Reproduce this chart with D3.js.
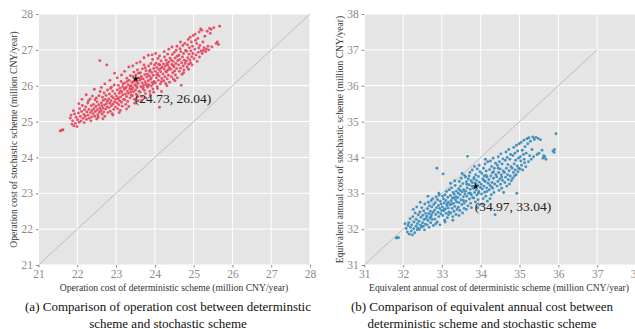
<!DOCTYPE html>
<html>
<head>
<meta charset="utf-8">
<script src="https://cdn.jsdelivr.net/npm/d3@7"></script>
<style>
  body { margin: 0; background: #fff; }
  svg { display: block; font-family: "Liberation Serif", "Times New Roman", serif; }
</style>
</head>
<body>
<div id="chart"></div>
<script>
// (a) operation cost: [deterministic, stochastic], million CNY/year
const opPoints = [
  [21.56,24.74],[21.63,24.77],[21.60,24.76],
  [21.82,25.10],[21.86,24.93],[21.88,25.02],[21.91,24.88],[21.93,25.21],[21.95,24.95],[21.97,25.12],[21.99,24.86],[21.84,25.18],[21.90,25.30],
  [22.01,25.05],[22.03,25.24],[22.05,24.98],[22.06,25.36],[22.08,25.14],[22.10,25.02],[22.11,25.28],[22.13,25.45],[22.15,25.09],[22.17,25.20],[22.18,24.97],[22.19,25.33],[22.04,25.50],[22.12,25.62],
  [22.21,25.15],[22.22,25.41],[22.24,25.06],[22.25,25.27],[22.27,25.52],[22.28,25.18],[22.30,25.34],[22.31,25.09],[22.33,25.63],[22.34,25.25],[22.36,25.44],[22.37,25.13],[22.38,25.31],[22.39,25.71],[22.23,25.75],[22.29,25.58],[22.35,25.02],
  [22.41,25.22],[22.42,25.48],[22.43,25.36],[22.45,25.15],[22.46,25.61],[22.47,25.28],[22.48,25.42],[22.50,25.07],[22.51,25.55],[22.52,25.33],[22.53,25.19],[22.55,25.47],[22.56,25.72],[22.57,25.26],[22.58,25.38],[22.59,25.84],[22.44,25.90],[22.54,25.12],[22.49,25.66],[22.58,26.70],
  [22.61,25.31],[22.62,25.52],[22.63,25.44],[22.64,25.21],[22.65,25.68],[22.66,25.37],[22.67,25.59],[22.68,25.27],[22.69,25.80],[22.70,25.46],[22.71,25.15],[22.72,25.62],[22.73,25.35],[22.74,25.73],[22.75,25.50],[22.76,26.58],[22.77,25.41],[22.78,25.88],[22.79,25.25],[22.62,25.95],[22.66,25.08],[22.71,26.05],[22.78,25.57],
  [22.81,25.63],[22.82,25.39],[22.83,25.77],[22.84,25.51],[22.85,25.29],[22.86,25.93],[22.87,25.58],[22.88,25.44],[22.89,25.70],[22.90,25.22],[22.91,25.85],[22.92,25.49],[22.93,25.66],[22.94,25.34],[22.95,26.02],[22.96,25.55],[22.97,25.78],[22.98,25.41],[22.99,25.62],[22.84,26.15],[22.92,25.18],[22.96,26.35],[22.88,25.96],
  [23.01,25.71],[23.02,25.52],[23.03,25.88],[23.04,25.36],[23.05,25.64],[23.06,26.01],[23.07,25.47],[23.08,25.79],[23.09,25.58],[23.10,25.93],[23.11,25.31],[23.12,25.69],[23.13,26.12],[23.14,25.54],[23.15,25.83],[23.16,25.43],[23.17,25.75],[23.18,26.05],[23.19,25.62],[23.03,26.22],[23.08,25.25],[23.14,26.30],[23.17,25.97],[23.11,25.85],[23.06,25.66],
  [23.21,25.90],[23.22,25.61],[23.23,26.08],[23.24,25.77],[23.25,25.48],[23.26,25.96],[23.27,25.70],[23.28,26.21],[23.29,25.85],[23.30,25.56],[23.31,26.03],[23.32,25.79],[23.33,25.42],[23.34,26.15],[23.35,25.91],[23.36,25.66],[23.37,26.28],[23.38,25.83],[23.39,26.00],[23.22,26.40],[23.27,25.35],[23.33,26.52],[23.36,25.98],[23.29,26.12],[23.24,25.93],[23.39,25.74],
  [23.41,26.09],[23.42,25.72],[23.43,25.94],[23.44,26.25],[23.45,25.83],[23.46,26.38],[23.47,25.62],[23.48,26.02],[23.49,26.17],[23.50,25.88],[23.51,26.30],[23.52,25.76],[23.53,26.10],[23.54,25.95],[23.55,26.44],[23.56,25.69],[23.57,26.06],[23.58,26.22],[23.59,25.85],[23.43,26.55],[23.48,25.51],[23.53,26.63],[23.57,25.58],[23.45,26.12],[23.52,26.00],[23.58,26.35],[23.41,25.90],
  [23.61,26.15],[23.62,25.82],[23.63,26.36],[23.64,25.98],[23.65,26.26],[23.66,25.70],[23.67,26.08],[23.68,26.47],[23.69,25.92],[23.70,26.19],[23.71,26.02],[23.72,26.58],[23.73,25.87],[23.74,26.31],[23.75,26.11],[23.76,25.78],[23.77,26.42],[23.78,26.05],[23.79,26.24],[23.62,26.66],[23.66,25.59],[23.72,26.78],[23.77,25.66],[23.64,26.20],[23.70,25.95],[23.75,26.50],[23.79,26.00],
  [23.81,26.32],[23.82,25.96],[23.83,26.14],[23.84,26.55],[23.85,26.03],[23.86,26.27],[23.87,25.84],[23.88,26.44],[23.89,26.18],[23.90,26.62],[23.91,25.99],[23.92,26.37],[23.93,26.09],[23.94,26.73],[23.95,25.91],[23.96,26.29],[23.97,26.48],[23.98,26.12],[23.99,26.58],[23.83,26.85],[23.88,25.75],[23.93,26.86],[23.97,25.82],[23.86,26.40],[23.91,26.22],[23.96,26.05],
  [24.01,26.40],[24.02,26.08],[24.03,26.63],[24.04,26.22],[24.05,26.51],[24.06,25.97],[24.07,26.34],[24.08,26.76],[24.09,26.15],[24.10,26.45],[24.11,26.27],[24.12,25.40],[24.13,26.58],[24.14,26.05],[24.15,26.39],[24.16,26.69],[24.17,25.84],[24.18,26.20],[24.19,26.52],[24.02,26.90],[24.07,25.92],[24.12,26.83],[24.17,26.11],[24.05,26.30],[24.10,26.60],[24.15,26.48],
  [24.21,26.33],[24.22,26.61],[24.23,26.14],[24.24,26.47],[24.25,26.80],[24.26,26.25],[24.27,26.55],[24.28,26.06],[24.29,26.71],[24.30,26.38],[24.31,26.62],[24.32,26.19],[24.33,26.88],[24.34,26.44],[24.35,26.29],[24.36,26.66],[24.37,26.51],[24.38,26.10],[24.39,26.77],[24.24,26.95],[24.31,26.00],[24.36,27.02],[24.28,26.40],[24.33,26.58],
  [24.41,26.46],[24.42,26.72],[24.43,26.25],[24.44,26.59],[24.45,26.87],[24.46,26.36],[24.47,26.68],[24.48,26.18],[24.49,26.53],[24.50,26.93],[24.51,26.41],[24.52,26.77],[24.53,26.30],[24.54,26.62],[24.55,26.99],[24.56,26.48],[24.57,26.82],[24.58,26.22],[24.59,26.70],[24.44,27.08],[24.52,26.14],[24.57,27.10],[24.48,26.56],
  [24.61,26.58],[24.62,26.85],[24.63,26.40],[24.64,26.73],[24.65,27.03],[24.66,26.49],[24.67,26.95],[24.68,26.01],[24.69,26.64],[24.70,26.32],[24.71,26.80],[24.72,27.12],[24.73,26.55],[24.74,26.90],[24.75,26.44],[24.76,26.71],[24.77,27.18],[24.78,26.62],[24.79,26.98],[24.66,27.22],[24.74,26.36],
  [24.81,26.69],[24.82,26.96],[24.83,26.52],[24.84,27.14],[24.85,26.78],[24.86,27.29],[24.87,26.60],[24.88,26.88],[24.89,27.06],[24.90,26.72],[24.91,27.35],[24.92,26.64],[24.93,26.97],[24.94,27.22],[24.95,26.81],[24.96,26.58],[24.97,27.10],[24.98,26.90],[24.99,27.40],[24.87,26.46],
  [25.01,26.75],[25.03,27.02],[25.04,27.44],[25.06,26.86],[25.08,27.18],[25.09,26.68],[25.11,27.32],[25.12,26.93],[25.14,27.50],[25.15,26.80],[25.16,27.12],[25.18,27.58],[25.19,26.97],[25.05,27.27],[25.13,27.05],
  [25.21,27.55],[25.22,26.90],[25.24,27.22],[25.25,26.98],[25.27,27.06],[25.29,27.38],[25.31,26.95],[25.33,27.02],[25.35,27.52],[25.37,27.10],[25.39,27.00],
  [25.41,27.60],[25.43,27.46],[25.45,27.57],[25.47,27.08],[25.52,27.62],[25.58,27.18],[25.61,27.22],[25.64,27.15],[25.67,27.66]
];

// (b) equivalent annual cost: [deterministic, stochastic], million CNY/year
const eacPoints = [
  [31.82,31.75],[31.85,31.77],[31.88,31.76],
  [32.08,32.02],[32.11,31.92],[32.14,32.18],[32.16,31.86],[32.18,32.29],[32.19,32.05],[32.13,32.10],[32.05,32.15],
  [32.21,31.95],[32.22,32.12],[32.24,31.84],[32.25,32.35],[32.27,32.01],[32.28,32.20],[32.30,31.90],[32.31,32.45],[32.33,32.08],[32.34,32.27],[32.36,31.98],[32.37,32.15],[32.39,32.40],[32.26,32.55],[32.35,32.62],[32.38,32.03],
  [32.41,32.22],[32.42,31.99],[32.43,32.48],[32.45,32.11],[32.46,32.33],[32.47,32.05],[32.48,32.60],[32.50,32.18],[32.51,32.39],[32.52,32.08],[32.53,32.51],[32.54,32.27],[32.56,32.70],[32.57,32.14],[32.58,32.44],[32.59,32.30],[32.44,32.75],[32.55,31.98],
  [32.61,32.36],[32.62,32.12],[32.63,32.57],[32.64,32.24],[32.65,32.75],[32.66,32.43],[32.67,32.05],[32.68,32.65],[32.69,32.31],[32.70,32.50],[32.71,32.18],[32.72,32.80],[32.73,32.40],[32.74,32.62],[32.75,32.27],[32.76,32.85],[32.77,32.47],[32.78,32.10],[32.79,32.69],[32.64,32.92],[32.72,32.35],
  [32.81,32.53],[32.82,32.28],[32.83,32.74],[32.84,32.41],[32.85,32.90],[32.86,32.60],[32.87,33.70],[32.88,32.20],[32.89,32.82],[32.90,32.47],[32.91,32.66],[32.92,32.35],[32.93,32.95],[32.94,32.58],[32.95,32.12],[32.96,32.78],[32.97,32.43],[32.98,32.70],[32.99,32.52],[32.84,32.15],[32.92,33.00],
  [33.01,32.62],[33.02,32.38],[33.03,33.54],[33.04,32.84],[33.05,32.51],[33.06,32.73],[33.07,32.25],[33.08,32.96],[33.09,32.57],[33.10,32.80],[33.11,32.44],[33.12,33.05],[33.13,32.66],[33.14,32.32],[33.15,32.89],[33.16,32.59],[33.17,32.75],[33.18,32.48],[33.19,33.10],[33.02,32.92],[33.08,32.20],[33.13,32.70],[33.17,32.40],[33.06,32.55],
  [33.21,32.68],[33.22,32.94],[33.23,32.45],[33.24,32.79],[33.25,33.15],[33.26,32.58],[33.27,32.86],[33.28,32.35],[33.29,33.02],[33.30,32.72],[33.31,32.50],[33.32,32.97],[33.33,32.63],[33.34,33.22],[33.35,32.82],[33.36,32.41],[33.37,33.06],[33.38,32.76],[33.39,32.55],[33.22,33.28],[33.28,32.25],[33.33,33.35],[33.37,32.90],[33.25,32.70],[33.31,32.88],
  [33.41,32.88],[33.42,32.61],[33.43,33.13],[33.44,32.74],[33.45,33.33],[33.46,32.52],[33.47,32.96],[33.48,33.20],[33.49,32.82],[33.50,33.42],[33.51,32.68],[33.52,33.04],[33.53,32.45],[33.54,33.27],[33.55,32.90],[33.56,33.10],[33.57,32.72],[33.58,33.50],[33.59,32.98],[33.44,32.38],[33.52,33.55],[33.57,32.58],[33.47,33.08],[33.55,32.80],[33.42,33.00],
  [33.61,33.06],[33.62,32.78],[33.63,33.32],[33.64,32.92],[33.65,33.15],[33.66,34.03],[33.67,32.65],[33.68,33.40],[33.69,33.00],[33.70,33.24],[33.71,32.84],[33.72,33.58],[33.73,33.11],[33.74,32.72],[33.75,33.35],[33.76,32.96],[33.77,33.20],[33.78,33.65],[33.79,32.88],[33.63,32.55],[33.70,33.48],[33.76,32.60],[33.64,33.25],[33.73,33.00],[33.78,33.30],[33.61,33.45],
  [33.81,33.14],[33.82,32.87],[33.83,33.44],[33.84,33.02],[33.85,33.28],[33.86,32.76],[33.87,33.52],[33.88,33.10],[33.89,33.36],[33.90,32.95],[33.91,33.68],[33.92,33.21],[33.93,32.82],[33.94,33.47],[33.95,33.05],[33.96,33.31],[33.97,32.68],[33.98,33.60],[33.99,33.16],[33.84,33.75],[33.92,32.60],[33.96,33.78],[33.88,33.25],[33.94,33.00],[33.82,33.40],
  [34.01,33.25],[34.02,32.98],[34.03,33.55],[34.04,33.12],[34.05,33.40],[34.06,32.85],[34.07,33.70],[34.08,33.20],[34.09,33.48],[34.10,33.03],[34.11,33.82],[34.12,33.33],[34.13,32.92],[34.14,33.62],[34.15,33.15],[34.16,33.45],[34.17,32.78],[34.18,33.88],[34.19,33.28],[34.04,32.70],[34.12,33.95],[34.16,33.05],[34.08,33.36],[34.14,33.50],
  [34.21,33.38],[34.22,33.10],[34.23,33.66],[34.24,33.22],[34.25,33.90],[34.26,33.48],[34.27,32.96],[34.28,33.75],[34.29,33.30],[34.30,33.57],[34.31,33.14],[34.32,33.98],[34.33,33.42],[34.34,33.02],[34.35,33.70],[34.36,33.26],[34.37,32.40],[34.38,33.84],[34.39,33.52],[34.24,32.85],[34.33,33.60],[34.28,33.18],
  [34.41,33.46],[34.42,33.20],[34.43,33.78],[34.44,33.33],[34.45,34.02],[34.46,33.58],[34.47,33.08],[34.48,33.88],[34.49,33.40],[34.50,33.68],[34.51,33.25],[34.52,34.10],[34.53,33.52],[34.54,33.14],[34.55,33.82],[34.56,33.36],[34.57,33.96],[34.58,33.62],[34.59,33.02],[34.45,33.70],[34.54,33.45],
  [34.61,33.58],[34.62,33.30],[34.63,33.92],[34.64,33.45],[34.65,34.15],[34.66,33.70],[34.67,33.20],[34.68,34.00],[34.69,33.52],[34.70,33.80],[34.71,33.38],[34.72,34.22],[34.73,33.63],[34.74,33.26],[34.75,33.95],[34.76,33.48],[34.77,34.08],[34.78,33.74],[34.79,33.35],
  [34.81,33.70],[34.82,33.42],[34.83,34.05],[34.84,33.58],[34.85,34.28],[34.86,33.82],[34.87,33.48],[34.88,34.12],[34.89,33.65],[34.90,33.92],[34.91,33.52],[34.92,34.34],[34.93,33.00],[34.94,33.76],[34.95,34.18],[34.96,33.60],[34.97,33.98],[34.98,33.70],[34.99,34.38],
  [35.01,33.68],[35.02,34.02],[35.04,34.42],[35.05,33.78],[35.07,34.20],[35.08,33.65],[35.10,34.08],[35.11,34.48],[35.13,33.85],[35.14,34.30],[35.16,33.74],[35.17,34.12],[35.19,34.52],[35.03,33.90],[35.12,33.95],
  [35.21,34.38],[35.23,33.88],[35.24,34.55],[35.26,34.05],[35.28,34.45],[35.30,33.95],[35.32,34.22],[35.34,34.57],[35.36,34.02],[35.38,34.50],
  [35.42,34.56],[35.45,34.08],[35.48,34.53],[35.50,34.12],[35.54,34.49],[35.58,34.20],[35.60,33.98],[35.65,34.02],[35.68,33.95],[35.62,34.05],
  [35.86,34.18],[35.89,34.14],[35.94,34.66],[35.90,34.22]
];

// marked points and their labels
const opMark = [23.51, 26.19];
const opMarkLabel = '(24.73, 26.04)';
const eacMark = [33.87, 33.19];
const eacMarkLabel = '(34.97, 33.04)';

const opTicks = [21, 22, 23, 24, 25, 26, 27, 28];
const eacTicks = [31, 32, 33, 34, 35, 36, 37, 38];

const opXLabel = 'Operation cost of deterministic scheme (million CNY/year)';
const opYLabel = 'Operation cost of stochastic scheme (million CNY/year)';
const eacXLabel = 'Equivalent annual cost of deterministic scheme (million CNY/year)';
const eacYLabel = 'Equivalent annual cost of stochastic scheme (million CNY/year)';
const opCaption = ['(a) Comparison of operation cost between determinstic', 'scheme and stochastic scheme'];
const eacCaption = ['(b) Comparison of equivalent annual cost between', 'deterministic scheme and stochastic scheme'];

const width = 635;
const height = 329;

const svg = d3.select('#chart')
  .append('svg')
  .attr('width', width)
  .attr('height', height);

function drawPanel(cfg) {
  const x = d3.scaleLinear().domain(d3.extent(cfg.ticks)).range([cfg.left, cfg.right]);
  const y = d3.scaleLinear().domain(d3.extent(cfg.ticks)).range([cfg.bottom, cfg.top]);
  const g = svg.append('g');

  // fundo cinza estilo ggplot
  g.append('rect')
    .attr('x', cfg.left)
    .attr('y', cfg.top)
    .attr('width', cfg.right - cfg.left)
    .attr('height', cfg.bottom - cfg.top)
    .attr('fill', '#e5e5e5');

  // grade branca
  g.selectAll('.vgrid')
    .data(cfg.ticks)
    .enter()
    .append('line')
    .attr('x1', (d) => x(d))
    .attr('x2', (d) => x(d))
    .attr('y1', cfg.top)
    .attr('y2', cfg.bottom)
    .attr('stroke', '#fff')
    .attr('stroke-width', 1);

  g.selectAll('.hgrid')
    .data(cfg.ticks)
    .enter()
    .append('line')
    .attr('x1', cfg.left)
    .attr('x2', cfg.right)
    .attr('y1', (d) => y(d))
    .attr('y2', (d) => y(d))
    .attr('stroke', '#fff')
    .attr('stroke-width', 1);

  // linha y = x
  g.append('line')
    .attr('x1', x(cfg.diag[0]))
    .attr('y1', y(cfg.diag[0]))
    .attr('x2', x(cfg.diag[1]))
    .attr('y2', y(cfg.diag[1]))
    .attr('stroke', '#bdbdbd')
    .attr('stroke-width', 1);

  // pontos
  g.append('g')
    .selectAll('circle')
    .data(cfg.points)
    .enter()
    .append('circle')
    .attr('cx', (d) => x(d[0]))
    .attr('cy', (d) => y(d[1]))
    .attr('r', 1.45)
    .attr('fill', cfg.color)
    .attr('fill-opacity', 0.9);

  // ponto marcado
  g.append('path')
    .attr('d', d3.symbol().type(d3.symbolStar).size(14))
    .attr('transform', `translate(${x(cfg.mark[0])},${y(cfg.mark[1])})`)
    .attr('fill', '#000');

  g.append('text')
    .attr('x', x(cfg.mark[0]) - 1)
    .attr('y', y(cfg.mark[1]) + 24.5)
    .attr('font-size', '13.5px')
    .attr('fill', '#222')
    .text(cfg.markLabel);

  // eixos
  const xAxis = g.append('g')
    .attr('transform', `translate(0,${cfg.bottom})`)
    .call(d3.axisBottom(x).tickValues(cfg.ticks).tickSize(2.5).tickPadding(2).tickFormat(d3.format('d')));
  const yAxis = g.append('g')
    .attr('transform', `translate(${cfg.left},0)`)
    .call(d3.axisLeft(y).tickValues(cfg.ticks).tickSize(2.5).tickPadding(3).tickFormat(d3.format('d')));

  [xAxis, yAxis].forEach((a) => {
    a.select('.domain').remove();
    a.selectAll('line').attr('stroke', '#888');
    a.selectAll('text')
      .attr('fill', '#8a8a8a')
      .style('font-size', '11.5px')
      .style('font-family', '"Liberation Serif", serif');
  });

  // rótulos dos eixos
  g.append('text')
    .attr('x', cfg.xLabelX)
    .attr('y', 291)
    .attr('text-anchor', 'middle')
    .attr('font-size', '9.6px')
    .attr('fill', '#333')
    .text(cfg.xLabel);

  g.append('text')
    .attr('transform', `translate(${cfg.yLabelX},${(cfg.top + cfg.bottom) / 2}) rotate(-90)`)
    .attr('text-anchor', 'middle')
    .attr('font-size', '9.6px')
    .attr('fill', '#333')
    .text(cfg.yLabel);

  // legenda (a)/(b)
  g.selectAll('.caption')
    .data(cfg.caption)
    .enter()
    .append('text')
    .attr('x', cfg.captionX)
    .attr('y', (d, i) => 311 + i * 16.5)
    .attr('text-anchor', 'middle')
    .attr('font-size', '13px')
    .attr('fill', '#111')
    .text((d) => d);
}

drawPanel({
  points: opPoints,
  ticks: opTicks,
  diag: [21, 28],
  mark: opMark,
  markLabel: opMarkLabel,
  color: '#e8405a',
  left: 38.5,
  right: 310,
  top: 14,
  bottom: 265,
  xLabel: opXLabel,
  yLabel: opYLabel,
  xLabelX: 174,
  yLabelX: 17,
  caption: opCaption,
  captionX: 168,
});

drawPanel({
  points: eacPoints,
  ticks: eacTicks,
  diag: [31, 37],
  mark: eacMark,
  markLabel: eacMarkLabel,
  color: '#348abd',
  left: 364.3,
  right: 636,
  top: 14,
  bottom: 265,
  xLabel: eacXLabel,
  yLabel: eacYLabel,
  xLabelX: 499,
  yLabelX: 343,
  caption: eacCaption,
  captionX: 482,
});
</script>
</body>
</html>
